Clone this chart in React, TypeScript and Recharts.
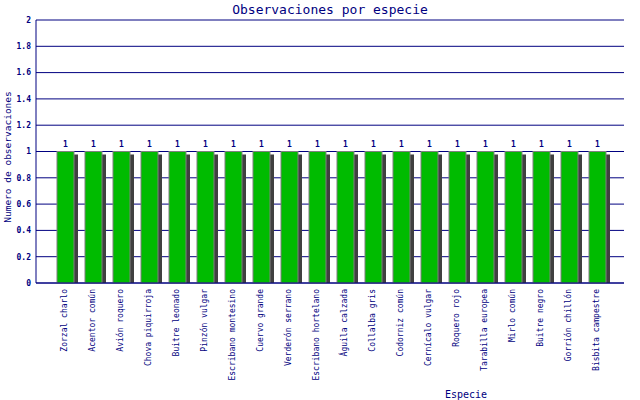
import React from "react";
import {
  BarChart,
  Bar,
  XAxis,
  YAxis,
  CartesianGrid,
  LabelList,
} from "recharts";

const species = [
  "Zorzal charlo",
  "Acentor común",
  "Avión roquero",
  "Chova piquirroja",
  "Buitre leonado",
  "Pinzón vulgar",
  "Escribano montesino",
  "Cuervo grande",
  "Verderón serrano",
  "Escribano hortelano",
  "Águila calzada",
  "Collalba gris",
  "Codorniz común",
  "Cernícalo vulgar",
  "Roquero rojo",
  "Tarabilla europea",
  "Mirlo común",
  "Buitre negro",
  "Gorrión chillón",
  "Bisbita campestre",
];

const counts = [1, 1, 1, 1, 1, 1, 1, 1, 1, 1, 1, 1, 1, 1, 1, 1, 1, 1, 1, 1];

const yTicks = [0, 0.2, 0.4, 0.6, 0.8, 1, 1.2, 1.4, 1.6, 1.8, 2];

const data = species.map((name, i) => ({ name, value: counts[i] }));

const NAVY = "#000080";
const FONT = "'DejaVu Sans Mono', monospace";

const ShadowBar = (props: any) => {
  const { x, y, width, height } = props;
  if (!height || height <= 0) return null;
  const shadow = 4;
  const w = width - shadow;
  return (
    <g>
      <rect x={x + w} y={y + 3} width={shadow} height={height - 3} fill="#404040" />
      <rect x={x} y={y} width={w} height={height} fill="#00bb00" stroke="#808080" strokeWidth={1} />
    </g>
  );
};

const SpeciesTick = (props: any) => {
  const { x, y, payload } = props;
  const tx = x;
  const ty = y + 6;
  return (
    <text
      x={tx}
      y={ty}
      transform={`rotate(-90, ${tx}, ${ty})`}
      textAnchor="end"
      fill={NAVY}
      fontSize={8}
      fontFamily={FONT}
    >
      {payload.value}
    </text>
  );
};

const ValueLabel = (props: any) => {
  const { x, y, width, value } = props;
  return (
    <text
      x={x + (width - 4) / 2}
      y={y - 5}
      textAnchor="middle"
      fill={NAVY}
      fontSize={8}
      fontWeight="bold"
      fontFamily={FONT}
    >
      {value}
    </text>
  );
};

export default function App() {
  return (
    <div style={{ position: "absolute", left: 0, top: 0, width: 640, height: 400, background: "#fff" }}>
      <BarChart
        width={640}
        height={400}
        data={data}
        margin={{ top: 20, right: 16, left: 0, bottom: 0 }}
      >
        <text x={330} y={14} textAnchor="middle" fill={NAVY} fontSize={13} fontFamily={FONT}>
          Observaciones por especie
        </text>
        <text
          x={11}
          y={157}
          transform="rotate(-90, 11, 157)"
          textAnchor="middle"
          fill={NAVY}
          fontSize={9.5}
          fontFamily={FONT}
        >
          Numero de observaciones
        </text>
        <text x={466} y={398} textAnchor="middle" fill={NAVY} fontSize={10} fontFamily={FONT}>
          Especie
        </text>
        <CartesianGrid horizontal vertical={false} stroke={NAVY} strokeWidth={1} />
        <XAxis
          dataKey="name"
          interval={0}
          height={117}
          padding={{ left: 17, right: 11 }}
          axisLine={{ stroke: NAVY }}
          tickLine={false}
          tickSize={0}
          tickMargin={0}
          tick={<SpeciesTick />}
        />
        <YAxis
          width={36}
          domain={[0, 2]}
          ticks={yTicks}
          interval={0}
          axisLine={{ stroke: NAVY }}
          tickLine={false}
          tickSize={4}
          tickMargin={1}
          tick={{ fill: NAVY, fontSize: 8, fontWeight: "bold", fontFamily: FONT }}
        />
        <YAxis
          yAxisId="right"
          orientation="right"
          width={0}
          domain={[0, 2]}
          tick={false}
          tickLine={false}
          axisLine={{ stroke: NAVY }}
        />
        <Bar dataKey="value" barSize={21} shape={<ShadowBar />} isAnimationActive={false}>
          <LabelList dataKey="value" content={<ValueLabel />} />
        </Bar>
      </BarChart>
    </div>
  );
}
